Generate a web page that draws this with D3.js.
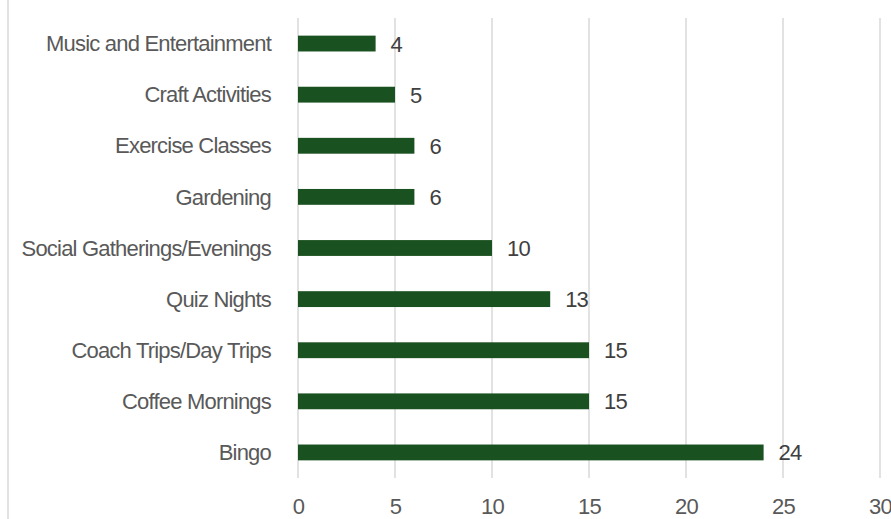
<!DOCTYPE html>
<html>
<head>
<meta charset="utf-8">
<script src="https://cdn.jsdelivr.net/npm/d3@7"></script>
<style>
  html, body { margin: 0; padding: 0; background: #fff; }
  svg { display: block; font-family: "Liberation Sans", Arial, sans-serif; }
</style>
</head>
<body>
<svg id="chart" width="891" height="519"></svg>
<script>
const categories = [
  "Music and Entertainment",
  "Craft Activities",
  "Exercise Classes",
  "Gardening",
  "Social Gatherings/Evenings",
  "Quiz Nights",
  "Coach Trips/Day Trips",
  "Coffee Mornings",
  "Bingo"
];
const values = [4, 5, 6, 6, 10, 13, 15, 15, 24];
const xTicks = [0, 5, 10, 15, 20, 25, 30];

const svg = d3.select("#chart");
const W = 891, H = 519;
const plot = { left: 298, right: 880, top: 18, bottom: 478 };

const x = d3.scaleLinear().domain([0, 30]).range([plot.left, plot.right]);
const y = d3.scaleBand().domain(categories).range([plot.top, plot.bottom]).paddingInner(0.69).paddingOuter(0.345);

// outer chart border (left edge visible)
svg.append("line")
  .attr("x1", 8).attr("x2", 8).attr("y1", 0).attr("y2", H)
  .attr("stroke", "#d9d9d9").attr("stroke-width", 1.5);

// gridlines
svg.append("g").selectAll("line").data(xTicks).join("line")
  .attr("x1", d => x(d)).attr("x2", d => x(d))
  .attr("y1", plot.top).attr("y2", plot.bottom)
  .attr("stroke", "#d9d9d9").attr("stroke-width", 1.5);

// bars
svg.append("g").selectAll("rect").data(values).join("rect")
  .attr("x", x(0))
  .attr("y", (d, i) => y(categories[i]))
  .attr("width", d => x(d) - x(0))
  .attr("height", y.bandwidth())
  .attr("fill", "#1a5121");

// value labels
svg.append("g").selectAll("text").data(values).join("text")
  .attr("x", d => x(d) + 15)
  .attr("y", (d, i) => y(categories[i]) + y.bandwidth() / 2 + 0.5)
  .attr("dominant-baseline", "central")
  .attr("font-size", 22)
  .attr("letter-spacing", "-0.8px")
  .attr("fill", "#404040")
  .text(d => d);

// category axis labels
const yAxis = d3.axisLeft(y).tickSize(0).tickPadding(27);
const gy = svg.append("g").attr("transform", `translate(${plot.left},0)`).call(yAxis);
gy.select(".domain").remove();
gy.selectAll("text")
  .attr("font-size", 22)
  .attr("letter-spacing", "-0.8px")
  .attr("fill", "#595959")
  .attr("font-family", "Liberation Sans, Arial, sans-serif")
  .attr("dy", "0.35em");

// x axis tick labels
const xAxis = d3.axisBottom(x).tickValues(xTicks).tickSize(0).tickPadding(20);
const gx = svg.append("g").attr("transform", `translate(0,${plot.bottom})`).call(xAxis);
gx.select(".domain").remove();
gx.selectAll("text")
  .attr("font-size", 22)
  .attr("letter-spacing", "-0.8px")
  .attr("fill", "#595959")
  .attr("font-family", "Liberation Sans, Arial, sans-serif");
</script>
</body>
</html>
